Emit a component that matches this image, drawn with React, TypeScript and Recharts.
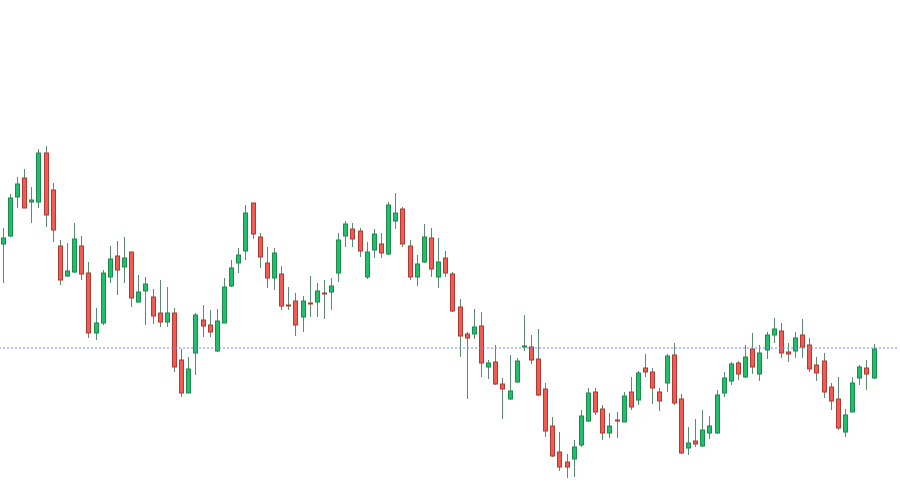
import { ComposedChart, Bar, XAxis, YAxis, ReferenceLine } from "recharts";

// price levels (arbitrary units)
const opens = [
  256, 264, 303, 322, 298, 298, 347, 310, 254, 224, 228, 254, 227, 167, 177, 223, 244, 233, 248, 198,
  209, 203, 187, 178, 187, 140, 107, 147, 180, 175, 149, 177, 214, 237, 249, 297, 263, 237, 222, 226,
  195, 199, 183, 197, 198, 207, 208, 227, 264, 271, 269, 223, 250, 256, 246, 279, 291, 254, 223, 238,
  262, 223, 242, 226, 193, 166, 166, 174, 133, 138, 116, 101, 118, 153, 153, 141, 111, 74, 48, 38,
  41, 55, 79, 108, 91, 67, 80, 78, 108, 100, 132, 128, 108, 117, 145, 101, 52, 59, 54, 67,
  67, 107, 119, 137, 123, 151, 126, 150, 165, 169, 148, 149, 165, 155, 135, 139, 113, 101, 68, 88,
  122, 132, 122,
];
const highs = [
  272, 306, 323, 331, 313, 351, 354, 317, 260, 257, 277, 264, 238, 192, 230, 254, 259, 263, 248, 225,
  223, 211, 220, 213, 192, 151, 143, 187, 195, 190, 191, 222, 240, 252, 295, 297, 267, 253, 252, 234,
  213, 207, 204, 224, 217, 220, 222, 267, 279, 277, 272, 258, 271, 267, 298, 307, 293, 260, 245, 276,
  272, 262, 249, 228, 201, 168, 191, 188, 140, 155, 122, 145, 142, 185, 165, 171, 117, 83, 68, 46,
  60, 90, 112, 112, 95, 87, 88, 108, 123, 129, 146, 132, 112, 146, 157, 106, 73, 81, 90, 84,
  110, 128, 138, 139, 155, 167, 155, 168, 182, 177, 157, 168, 181, 162, 143, 147, 117, 123, 91, 123,
  135, 140, 156,
];
const lows = [
  217, 263, 292, 292, 277, 292, 273, 258, 215, 223, 227, 220, 162, 160, 175, 217, 205, 217, 193, 197,
  175, 176, 173, 173, 128, 103, 107, 125, 163, 163, 148, 177, 213, 227, 240, 261, 232, 212, 210, 190,
  190, 164, 168, 183, 183, 181, 190, 218, 253, 253, 243, 221, 242, 242, 245, 271, 253, 220, 214, 237,
  223, 212, 223, 188, 143, 101, 161, 123, 121, 115, 81, 100, 117, 149, 136, 104, 63, 43, 29, 22,
  23, 53, 78, 85, 60, 62, 62, 78, 90, 95, 123, 96, 89, 108, 95, 46, 45, 53, 53, 61,
  66, 103, 115, 120, 122, 126, 119, 141, 157, 142, 138, 142, 142, 128, 119, 102, 90, 70, 63, 88,
  115, 110, 121,
];
const closes = [
  262, 302, 316, 292, 300, 347, 285, 270, 220, 229, 261, 226, 167, 177, 227, 241, 230, 242, 202, 208,
  216, 184, 178, 187, 133, 107, 131, 185, 174, 168, 179, 213, 232, 245, 287, 266, 243, 222, 247, 194,
  194, 175, 199, 196, 209, 206, 214, 260, 276, 261, 249, 248, 266, 247, 295, 287, 256, 223, 236, 263,
  231, 238, 227, 189, 164, 162, 173, 137, 137, 116, 111, 109, 139, 154, 140, 105, 69, 44, 33, 33,
  53, 84, 107, 88, 67, 74, 79, 104, 93, 127, 128, 112, 99, 144, 97, 47, 57, 56, 70, 74,
  105, 122, 136, 126, 143, 133, 147, 165, 171, 147, 146, 162, 153, 131, 127, 108, 99, 72, 85, 117,
  133, 126, 151,
];
const lastPrice = 152;

const candles = opens.map((open, i) => ({
  idx: i + 1,
  open,
  high: highs[i],
  low: lows[i],
  close: closes[i],
}));

const Candle = (props: any) => {
  const { x, y, width, height, payload } = props;
  const { open, close, high, low } = payload;
  const up = close >= open;
  const top = Math.min(y, y + height);
  const h = Math.abs(height);
  const ratio = high === low ? 0 : h / (high - low);
  const bodyTop = top + (high - Math.max(open, close)) * ratio;
  const bodyH = Math.max(1, Math.abs(open - close) * ratio);
  const cx = Math.round(x + width / 2) + 0.5;
  return (
    <g>
      <line x1={cx} x2={cx} y1={top} y2={top + h} stroke="#5b8a6e" strokeWidth={1} />
      <rect
        x={cx - 2}
        y={bodyTop}
        width={4}
        height={bodyH}
        fill={up ? "#22bf6b" : "#f05b52"}
        stroke={up ? "#1b8a4c" : "#b03a33"}
        strokeWidth={1}
      />
    </g>
  );
};

export default function App() {
  return (
    <div style={{ position: "absolute", left: -1, top: 0, background: "#fff" }}>
      <ComposedChart
        width={900}
        height={495}
        data={candles}
        margin={{ top: 0, right: 0, bottom: 0, left: 0 }}
      >
        <XAxis dataKey="idx" hide padding={{ left: 0, right: 22 }} />
        <YAxis hide domain={[5, 500]} />
        <ReferenceLine
          y={lastPrice}
          stroke="#6f88f2"
          strokeDasharray="2 2"
          strokeWidth={1}
        />
        <Bar
          dataKey={(d: any) => [d.low, d.high]}
          shape={<Candle />}
          isAnimationActive={false}
        />
      </ComposedChart>
    </div>
  );
}
